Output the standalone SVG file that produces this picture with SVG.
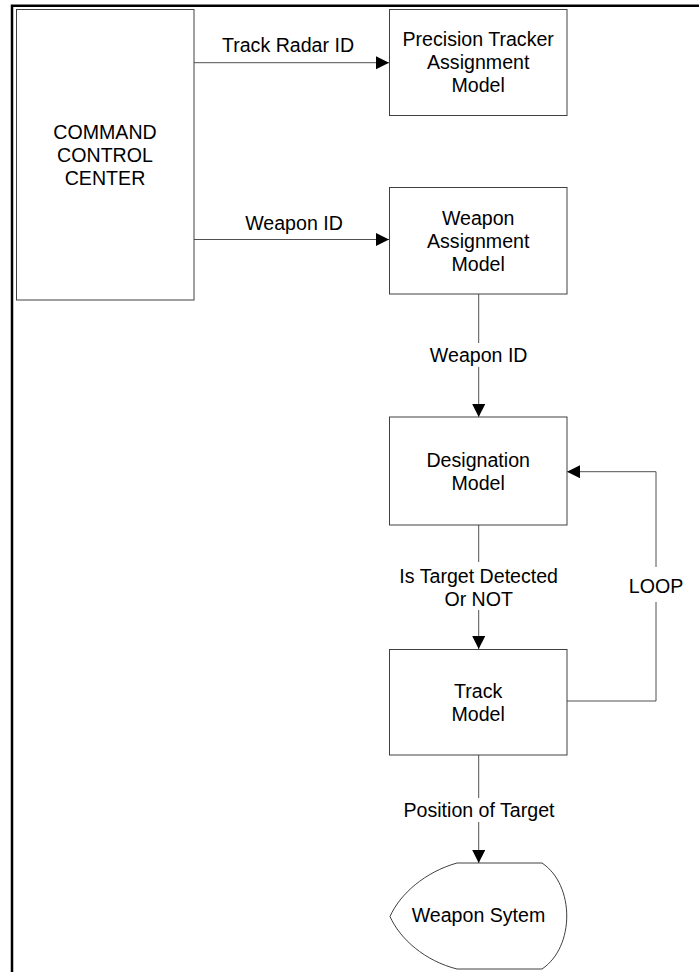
<svg xmlns="http://www.w3.org/2000/svg" width="699" height="972" viewBox="0 0 699 972">
<style>
.box{fill:#fff;stroke:#404040;stroke-width:1}
.ln{fill:none;stroke:#505050;stroke-width:1}
text{font-family:"Liberation Sans",Arial,sans-serif;font-size:19.6px;fill:#000;text-anchor:middle}
.bg{fill:#fff}
</style>
<defs>
<marker id="ah" markerUnits="userSpaceOnUse" markerWidth="14" markerHeight="14" refX="13" refY="6.5" orient="auto">
<path d="M0,0 L13,6.5 L0,13 z" fill="#000"/>
</marker>
</defs>
<rect width="699" height="972" fill="#fff"/>
<path d="M12,972 L12,5.7 L699,5.7" fill="none" stroke="#000" stroke-width="2.5"/>
<g id="connectors">
<path class="ln" d="M194,62.7 L389,62.7" marker-end="url(#ah)"/>
<path class="ln" d="M194,239.5 L389,239.5" marker-end="url(#ah)"/>
<path class="ln" d="M478.7,294 L478.7,417" marker-end="url(#ah)"/>
<path class="ln" d="M478.7,525 L478.7,649" marker-end="url(#ah)"/>
<path class="ln" d="M567,701 L656,701 L656,471.7 L567,471.7" marker-end="url(#ah)"/>
<path class="ln" d="M478.7,755 L478.7,863" marker-end="url(#ah)"/>
<g id="labels">
<text x="288" y="52">Track Radar ID</text>
<text x="294" y="230">Weapon ID</text>
<rect class="bg" x="428" y="343" width="102" height="24"/>
<text x="478.7" y="361.5">Weapon ID</text>
<rect class="bg" x="395" y="562" width="168" height="48"/>
<text x="478.7" y="582.5">Is Target Detected</text>
<text x="478.7" y="605.5">Or NOT</text>
<rect class="bg" x="630" y="567" width="52" height="35"/>
<text x="656" y="593">LOOP</text>
<rect class="bg" x="398" y="798" width="162" height="24"/>
<text x="479" y="816.5">Position of Target</text>
</g>
</g>
<g id="command">
<rect class="box" x="16.5" y="9.5" width="177.5" height="290.5"/>
<text x="105" y="138.5">COMMAND</text>
<text x="105" y="161.7">CONTROL</text>
<text x="105" y="185">CENTER</text>
</g>
<g id="precision">
<rect class="box" x="389.5" y="9.5" width="177.5" height="106"/>
<text x="478.2" y="46">Precision Tracker</text>
<text x="478.2" y="69">Assignment</text>
<text x="478.2" y="92">Model</text>
</g>
<g id="weapon-assignment">
<rect class="box" x="389.5" y="187.5" width="177.5" height="106.5"/>
<text x="478.2" y="224.5">Weapon</text>
<text x="478.2" y="247.5">Assignment</text>
<text x="478.2" y="270.5">Model</text>
</g>
<g id="designation">
<rect class="box" x="389.5" y="417" width="177.5" height="108"/>
<text x="478.2" y="466.5">Designation</text>
<text x="478.2" y="489.5">Model</text>
</g>
<g id="track">
<rect class="box" x="389.5" y="649.5" width="177.5" height="105.5"/>
<text x="478.2" y="697.5">Track</text>
<text x="478.2" y="720.5">Model</text>
</g>
<g id="weapon-system">
<path class="box" d="M457,863 L542,863 C575,885 575,947 542,969 L457,969 C425,961 400,939 390,916.5 C400,894 425,872 457,863 Z"/>
<text x="478.5" y="922">Weapon Sytem</text>
</g>
</svg>
